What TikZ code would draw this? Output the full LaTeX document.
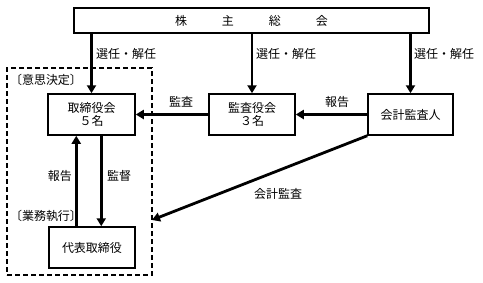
\documentclass[tikz,border=0pt]{standalone}
\usepackage{fontspec}
\setmainfont{Noto Sans CJK JP}
\usetikzlibrary{arrows.meta}
\begin{document}
\begin{tikzpicture}[x=1pt,y=-1pt,
  box/.style={draw, line width=1.5pt, rectangle, inner sep=0pt, align=center, font=\fontsize{12}{13}\selectfont},
  lbl/.style={inner sep=0pt, font=\fontsize{12}{13}\selectfont},
  arr/.style={line width=2.8pt, -{Triangle[length=8pt,width=9pt]}},
  grpbox/.style={draw, line width=1.5pt, dash pattern=on 5pt off 3pt, rectangle, inner sep=0pt},
]
\useasboundingbox (0,0) rectangle (483,282);
\node[grpbox, minimum width=145pt, minimum height=207pt] (grp) at (79.5,171.5) {};
\node[box, minimum width=355pt, minimum height=25pt] (gm) at (251.5,20.5) {株\hspace{35pt}主\hspace{35pt}総\hspace{35pt}会};
\node[box, minimum width=87pt, minimum height=41pt] (bd) at (91.5,114.5) {取締役会\\５名};
\node[box, minimum width=86pt, minimum height=41pt] (ka) at (252,114.5) {監査役会\\３名};
\node[box, minimum width=85pt, minimum height=41pt] (aud) at (410.5,114.5) {会計監査人};
\node[box, minimum width=86pt, minimum height=41pt] (ceo) at (92,247.5) {代表取締役};
\coordinate (tip) at (152,220);

\draw[arr] (gm.south -| bd) -- (bd.north);
\draw[arr] (gm.south -| ka) -- (ka.north);
\draw[arr] (gm.south -| aud) -- (aud.north);
\draw[arr] (ka.west) -- (bd.east);
\draw[arr] (aud.west) -- (ka.east);
\draw[arr] ([xshift=28pt]ceo.north west) -- ([xshift=28pt]ceo.north west |- bd.south);
\draw[arr] ([xshift=54pt]bd.south west) -- ([xshift=54pt]bd.south west |- ceo.north);
\draw[arr] (aud.south west) -- (tip);

\node[lbl, anchor=west] (l1) at (96,54) {選任・解任};
\node[lbl, anchor=west] (l2) at (256,54) {選任・解任};
\node[lbl, anchor=west] (l3) at (414,54) {選任・解任};
\node[lbl] (l4) at (181,102) {監査};
\node[lbl] (l5) at (337,102) {報告};
\node[lbl] (l6) at (60,176) {報告};
\node[lbl] (l7) at (119,176) {監督};
\node[lbl] (l8) at (278,194) {会計監査};
\node[lbl] (l9) at (46,80) {〔意思決定〕};
\node[lbl] (l10) at (46,216) {〔業務執行〕};
\end{tikzpicture}
\end{document}
